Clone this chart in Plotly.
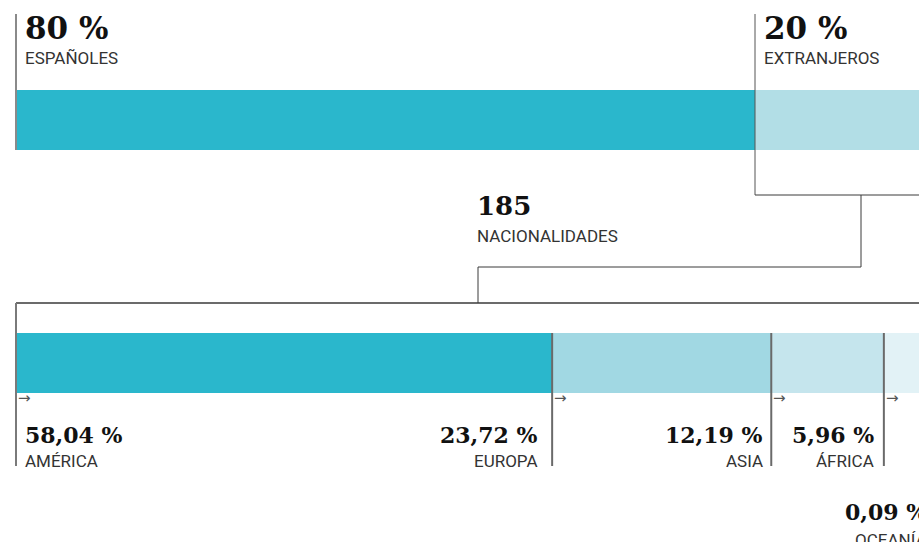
import plotly.graph_objects as go

# ---- data ----
origin_labels = ["ESPAÑOLES", "EXTRANJEROS"]
origin_values = [80, 20]
origin_text = ["80 %", "20 %"]
origin_colors = ["#2ab7cc", "#b2dee6"]

nationalities_count = "185"
nationalities_label = "NACIONALIDADES"

region_labels = ["AMÉRICA", "EUROPA", "ASIA", "ÁFRICA", "OCEANÍA"]
region_values = [58.04, 23.72, 12.19, 5.96, 0.09]
region_text = ["58,04 %", "23,72 %", "12,19 %", "5,96 %", "0,09 %"]
region_colors = ["#2ab7cc", "#a1d8e3", "#c5e5ed", "#e2f2f6", "#f1f8fa"]

W, H = 919, 542
PX_PER_PCT = 9.2375
X0 = 16  # pixel x of 0 %
xr = [-X0 / PX_PER_PCT, (W - X0) / PX_PER_PCT]
yr = [H, 0]

SERIF = "DejaVu Serif"
SANS = "Roboto"
SANS_SIZE = 17

fig = go.Figure()

# top bar
base = 0
top_starts = []
for lab, v, c in zip(origin_labels, origin_values, origin_colors):
    top_starts.append(base)
    fig.add_trace(go.Bar(orientation="h", y=[120], x=[v], base=[base], width=60,
                         marker=dict(color=c, line=dict(width=0)), name=lab,
                         hoverinfo="skip"))
    base += v

# bottom bar
base = 0
bot_starts = []
for lab, v, c in zip(region_labels, region_values, region_colors):
    bot_starts.append(base)
    fig.add_trace(go.Bar(orientation="h", y=[363], x=[v], base=[base], width=60,
                         marker=dict(color=c, line=dict(width=0)), name=lab,
                         hoverinfo="skip"))
    base += v

def px2x(p):
    return (p - X0) / PX_PER_PCT

shapes = []
def line(x0, y0, x1, y1, color="#3a3a3a", width=1):
    shapes.append(dict(type="line", xref="x", yref="y", x0=x0, y0=y0, x1=x1, y1=y1,
                       line=dict(color=color, width=width), layer="above"))

# top markers
line(top_starts[0], 14, top_starts[0], 150, color="#8a8a8a", width=2)
line(top_starts[1], 14, top_starts[1], 195, color="#555555", width=1)
# connector from extranjeros to nationalities
line(top_starts[1], 195, xr[1] + 5, 195, color="#3a3a3a", width=1)
xm = px2x(861)
xn = px2x(478)
line(xm, 195, xm, 267)
line(xn, 267, xm, 267)
line(xn, 267, xn, 303)
line(bot_starts[0], 303, xr[1] + 5, 303, color="#3a3a3a", width=1.5)
# bottom markers
line(bot_starts[0], 303, bot_starts[0], 466, color="#7a7a7a", width=2)
for s in bot_starts[1:4]:
    line(s, 333, s, 466, color="#6a6a6a", width=2)

annotations = []
def text(x, y, t, size, family, color="#111", xanchor="left", xshift=0, bold=False):
    annotations.append(dict(x=x, y=y, xref="x", yref="y", text=("<b>%s</b>" % t) if bold else t,
                            showarrow=False, xanchor=xanchor, yanchor="middle", xshift=xshift,
                            font=dict(size=size, family=family, color=color)))

# top labels
for s, t, lab in zip(top_starts, origin_text, origin_labels):
    text(s, 28, t, 31, SERIF, bold=True, xshift=7)
    text(s, 58, lab, SANS_SIZE, SANS, color="#333", xshift=7)

text(xn, 206, nationalities_count, 26, SERIF, bold=True, xshift=-3)
text(xn, 236, nationalities_label, SANS_SIZE, SANS, color="#333", xshift=-3)

# bottom labels
text(bot_starts[0], 435, region_text[0], 22, SERIF, bold=True, xshift=7)
text(bot_starts[0], 461, region_labels[0], SANS_SIZE, SANS, color="#333", xshift=7)
label_gaps = [-12, -6, -8]
for i, g in zip(range(1, 4), label_gaps):
    text(bot_starts[i], 435, region_text[i], 22, SERIF, bold=True, xanchor="right", xshift=g)
    text(bot_starts[i], 461, region_labels[i], SANS_SIZE, SANS, color="#333", xanchor="right", xshift=g)
# last region: its start lies past the visible edge, anchor at the edge and shift
edge_shift = (bot_starts[4] - xr[1]) * PX_PER_PCT - 10
text(xr[1], 512, region_text[4], 22, SERIF, bold=True, xanchor="right", xshift=edge_shift)
text(xr[1], 540, region_labels[4], SANS_SIZE, SANS, color="#333", xanchor="right", xshift=edge_shift)

# arrows
for s in bot_starts[:4]:
    text(s, 398, "→", 15, "DejaVu Sans", color="#555", xshift=0)

fig.update_layout(
    width=W, height=H,
    margin=dict(l=0, r=0, t=0, b=0),
    paper_bgcolor="white", plot_bgcolor="white",
    barmode="overlay", bargap=0, showlegend=False,
    xaxis=dict(range=xr, visible=False, fixedrange=True),
    yaxis=dict(range=yr, visible=False, fixedrange=True),
    shapes=shapes, annotations=annotations,
)
fig.write_html(
    "out.html",
    config={"displayModeBar": False},
    post_script="document.body.style.margin='0';document.documentElement.style.overflow='hidden';document.body.style.overflow='hidden';",
)
